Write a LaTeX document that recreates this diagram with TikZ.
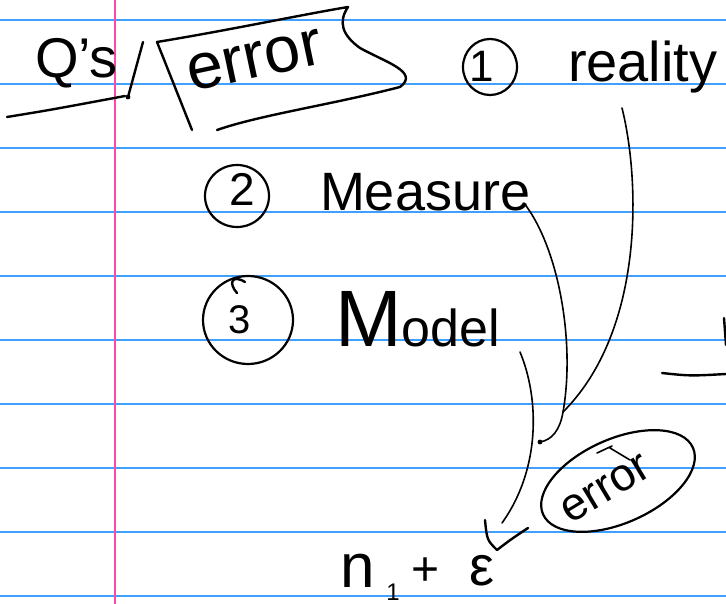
\documentclass[tikz,border=0pt]{standalone}
\usepackage{fontspec}
\setmainfont{Liberation Sans}
\usetikzlibrary{shapes.geometric}
\newcommand\fsz[1]{\fontsize{#1}{#1}\selectfont}
\definecolor{ruleblue}{RGB}{64,160,255}
\definecolor{rulepink}{RGB}{255,70,170}
\tikzset{
  ink/.style={line width=2.4pt, line cap=round, line join=round},
  thinink/.style={line width=1.6pt, line cap=round, line join=round},
  txt/.style={inner sep=0pt, outer sep=0pt, anchor=base west},
  ctxt/.style={inner sep=0pt, outer sep=0pt},
  ring/.style={draw, ellipse, line width=2.2pt, inner sep=0pt},
  rule/.style={line width=1.4pt, color=ruleblue},
  margin/.style={line width=1.6pt, color=rulepink}
}
\begin{document}
\begin{tikzpicture}[x=1pt,y=-1pt]
\useasboundingbox (0,0) rectangle (726,604);
\fill[white] (0,0) rectangle (726,604);
% ruled paper
\foreach \k in {0,...,9} \draw[rule] (0,20+64*\k) -- (726,20+64*\k);
\draw[margin] (115,0) -- (115,604);

% top line
\node[txt] (qs) at (35,78) {\fsz{56}Q's};
\draw[ink] (143,42) -- (128,97);
\fill (128,97) circle (2.4pt);
\draw[ink] (7,117) .. controls (50,110) .. (125,96);
\node[txt, rotate=12] (err1) at (191,92) {\fsz{65}error};
\draw[ink] (192,130) -- (157,42) .. controls (230,30) and (300,15) .. (348,7)
  .. controls (338,22) and (342,35) .. (360,48)
  .. controls (385,62) and (420,72) .. (400,87)
  .. controls (330,105) and (260,115) .. (217,130);

\node[ring, minimum width=54pt, minimum height=56pt] (c1) at (490,67) {};
\node[ctxt] (n1) at (482,66) {\fsz{44}1};
\node[txt] (real) at (568,82) {\fsz{56}reality};

% second line
\node[ring, minimum width=64pt, minimum height=62pt] (c2) at (237,196) {};
\node[ctxt] (n2) at (242,189) {\fsz{46}2};
\node[txt] (meas) at (320,211) {\fsz{54}Measure};

% third line
\node[ring, minimum width=90pt, minimum height=88pt] (c3) at (248,320) {};
\draw[ink] (237,293) .. controls (228,283) and (232,274) .. (245,282);
\node[ctxt] (n3) at (240,320) {\fsz{40}3};
\node[txt] (model) at (335,346) {\fsz{80}M\fsz{52}odel};

% connectors
\coordinate (m1) at (524,203);
\coordinate (r1) at (622,108);
\coordinate (j) at (563,412);
\coordinate (d1) at (540,442);
\draw[thinink] (m1) .. controls (560,250) and (575,345) .. (j);
\draw[thinink] (r1) .. controls (640,180) and (645,330) .. (j);
\draw[thinink] (j) .. controls (560,430) and (552,440) .. (d1);
\fill (d1) circle (2.4pt);

\coordinate (m2) at (520,352);
\coordinate (a1) at (502,523);
\coordinate (a2) at (485,520);
\coordinate (a3) at (497,550);
\coordinate (a4) at (528,528);
\draw[thinink] (m2) .. controls (540,400) and (540,470) .. (a1);
\draw[ink] (a2) .. controls (487,540) .. (a3) .. controls (510,540) .. (a4);

% bottom
\node[txt] (nn) at (340,587) {\fsz{62}n};
\node[ctxt] (sub) at (393,592) {\fsz{24}1};
\node[ctxt] (plus) at (426,572) {\fsz{48}+};
\node[ctxt] (eps) at (482,571) {\fsz{56}ε};

\node[ring, rotate=24, minimum width=164pt, minimum height=84pt] (c4) at (618,481) {};
\node[ctxt, rotate=31] (err2) at (606,489) {\fsz{46}error};
\draw[thinink] (597,453) -- (612,446) (610,448) -- (630,460);

% right edge fragments
\draw[ink] (724,318) -- (726,345);
\draw[ink] (662,373) .. controls (690,376) .. (726,374);
\end{tikzpicture}
\end{document}
